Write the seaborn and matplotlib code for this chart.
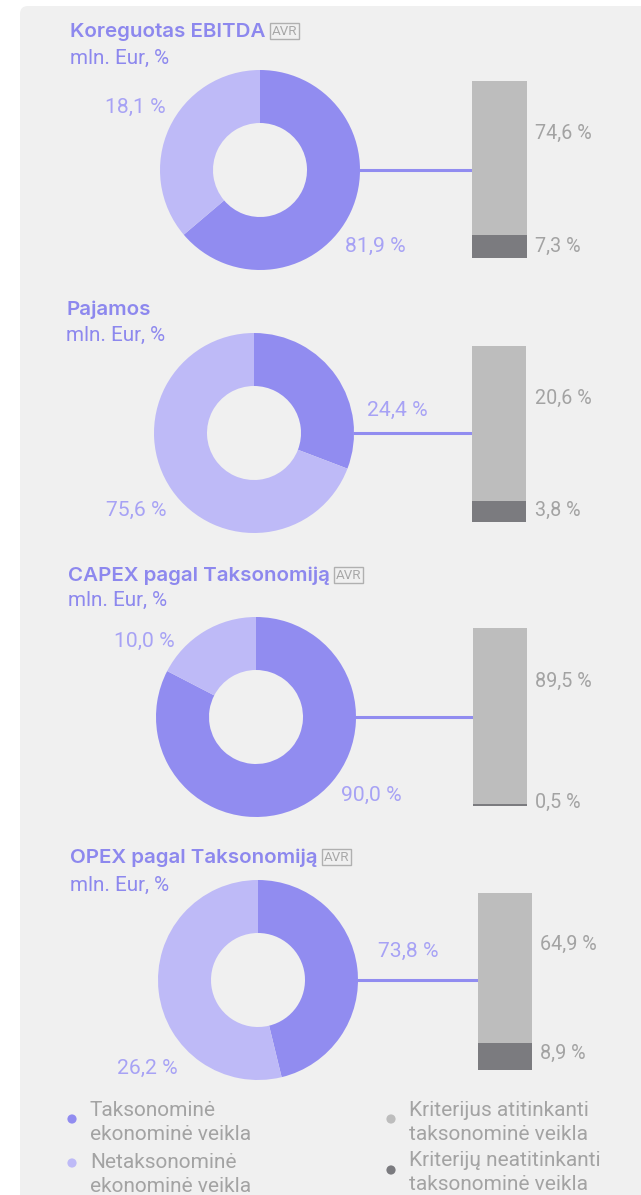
import matplotlib
matplotlib.use("Agg")
import matplotlib.pyplot as plt
import seaborn as sns
import pandas as pd
from matplotlib.patches import FancyBboxPatch, Circle

sns.set_theme(style="white")
plt.rcParams['font.family'] = ['Roboto', 'DejaVu Sans']

# ---------------- data ----------------
categories = ["Koreguotas EBITDA", "Pajamos", "CAPEX pagal Taksonomiją", "OPEX pagal Taksonomiją"]
has_avr = [True, False, True, True]
unit_label = "mln. Eur, %"
taxonomic_pct = [81.9, 24.4, 90.0, 73.8]          # label values
non_taxonomic_pct = [18.1, 75.6, 10.0, 26.2]      # label values
aligned_pct = [74.6, 20.6, 89.5, 64.9]
not_aligned_pct = [7.3, 3.8, 0.5, 8.9]
# shares as drawn in the reference (slice / bar proportions)
donut_drawn_taxonomic = [63.8, 30.8, 82.6, 46.2]
bar_drawn_not_aligned = [13.0, 11.7, 0.9, 15.3]
legend_labels = [["Taksonominė", "ekonominė veikla"],
                 ["Netaksonominė", "ekonominė veikla"],
                 ["Kriterijus atitinkanti", "taksonominė veikla"],
                 ["Kriterijų neatitinkanti", "taksonominė veikla"]]

# ---------------- style ----------------
C_TAX = "#918CF0"
C_NONTAX = "#BEBAF7"
C_ALIGN = "#BDBDBD"
C_NOTALIGN = "#7B7B7F"
C_TITLE = "#8D88EE"
C_PLAB = "#A7A2F5"
C_GLAB = "#A3A3A3"
BG = "#F0F0F0"
TITLE_FONT = ['Inter', 'DejaVu Sans']

W, H = 641, 1195
fig = plt.figure(figsize=(W / 100, H / 100), dpi=100)
fig.patch.set_facecolor("white")

bg = fig.add_axes([0, 0, 1, 1], zorder=0)
bg.set_xlim(0, W)
bg.set_ylim(H, 0)
bg.axis("off")
bg.add_patch(FancyBboxPatch((20, 6), W + 40, H + 40,
                            boxstyle="round,pad=0,rounding_size=8",
                            facecolor=BG, edgecolor="none"))

# layout per panel (pixels)
layout = [
    dict(title=(70, 32), unit=(70, 58), c=(260, 170), bar=(472, 81, 55, 177),
         lab_tax=(406, 246, "right"), lab_non=(166, 107, "right"),
         lab_al=(535, 133), lab_na=(535, 246)),
    dict(title=(66, 310), unit=(66, 335), c=(254, 433), bar=(472, 346, 54, 176),
         lab_tax=(428, 410, "right"), lab_non=(167, 510, "right"),
         lab_al=(535, 398), lab_na=(535, 510)),
    dict(title=(68, 576), unit=(68, 600), c=(256, 717), bar=(473, 628, 54, 178),
         lab_tax=(402, 795, "right"), lab_non=(175, 641, "right"),
         lab_al=(535, 681), lab_na=(535, 802)),
    dict(title=(70, 858), unit=(70, 885), c=(258, 980), bar=(478, 893, 54, 177),
         lab_tax=(438, 951, "right"), lab_non=(178, 1068, "right"),
         lab_al=(540, 944), lab_na=(540, 1053)),
]
R = 100


def fmt(v):
    return f"{v:.1f}".replace(".", ",") + " %"


titles = []
for i, cat in enumerate(categories):
    L = layout[i]
    t = bg.text(L["title"][0], L["title"][1], cat, color=C_TITLE, fontsize=14.8,
                family=TITLE_FONT, fontweight="semibold", va="center", ha="left")
    titles.append(t)
    bg.text(L["unit"][0], L["unit"][1], unit_label, color=C_TITLE, fontsize=14.9,
            va="center", ha="left")

    cx, cy = L["c"]
    pax = fig.add_axes([(cx - R) / W, 1 - (cy + R) / H, 2 * R / W, 2 * R / H], zorder=2)
    pax.pie([donut_drawn_taxonomic[i], 100 - donut_drawn_taxonomic[i]],
            colors=[C_TAX, C_NONTAX], startangle=90, counterclock=False,
            wedgeprops=dict(width=0.53, linewidth=0))
    pax.set_xlim(-1, 1)
    pax.set_ylim(-1, 1)
    pax.axis("off")
    pax.patch.set_alpha(0)

    bx, by, bw, bh = L["bar"]
    bax = fig.add_axes([bx / W, 1 - (by + bh) / H, bw / W, bh / H], zorder=2)
    df = pd.DataFrame({"cat": [cat], "total": [100.0], "bottom": [bar_drawn_not_aligned[i]]})
    sns.barplot(data=df, x="cat", y="total", color=C_ALIGN, saturation=1, width=1,
                errorbar=None, linewidth=0, ax=bax)
    sns.barplot(data=df, x="cat", y="bottom", color=C_NOTALIGN, saturation=1, width=1,
                errorbar=None, linewidth=0, ax=bax)
    bax.set_xlim(-0.5, 0.5)
    bax.set_ylim(0, 100)
    bax.axis("off")
    bax.patch.set_alpha(0)

    # connector
    bg.plot([cx + R - 1, bx], [cy, cy], color=C_TAX, lw=2.2, solid_capstyle="butt")

    x, y, ha = L["lab_tax"]
    bg.text(x, y, fmt(taxonomic_pct[i]), color=C_PLAB, fontsize=15.2,
            ha=ha, va="center")
    x, y, ha = L["lab_non"]
    bg.text(x, y, fmt(non_taxonomic_pct[i]), color=C_PLAB, fontsize=15.2,
            ha=ha, va="center")
    bg.text(L["lab_al"][0], L["lab_al"][1], fmt(aligned_pct[i]), color=C_GLAB,
            fontsize=14.2, ha="left", va="center")
    bg.text(L["lab_na"][0], L["lab_na"][1], fmt(not_aligned_pct[i]), color=C_GLAB,
            fontsize=14.2, ha="left", va="center")

# AVR badges after titles
fig.canvas.draw()
renderer = fig.canvas.get_renderer()
inv = bg.transData.inverted()
for i, t in enumerate(titles):
    if not has_avr[i]:
        continue
    ext = t.get_window_extent(renderer)
    x1, _ = inv.transform((ext.x1, ext.y0))
    bg.text(x1 + 6, layout[i]["title"][1] - 1, "AVR", color="#A8A8A8", fontsize=9.6,
            ha="left", va="center",
            bbox=dict(boxstyle="square,pad=0.12", facecolor="none",
                      edgecolor="#B0B0B0", linewidth=1))

# legend
legend_colors = [C_TAX, C_NONTAX, C_ALIGN, C_NOTALIGN]
legend_pos = [(72, 1110, 1119), (72, 1162, 1163), (391, 1110, 1119), (391, 1160, 1170)]
for (x, y, dy), lines, col in zip(legend_pos, legend_labels, legend_colors):
    bg.add_patch(Circle((x, dy), 4.6, facecolor=col, edgecolor="none"))
    bg.text(x + 18, y, lines[0], color=C_GLAB, fontsize=15,
            va="center", ha="left")
    bg.text(x + 18, y + 25, lines[1], color=C_GLAB, fontsize=15,
            va="center", ha="left")

fig.savefig("out.png", dpi=100, facecolor="white")
